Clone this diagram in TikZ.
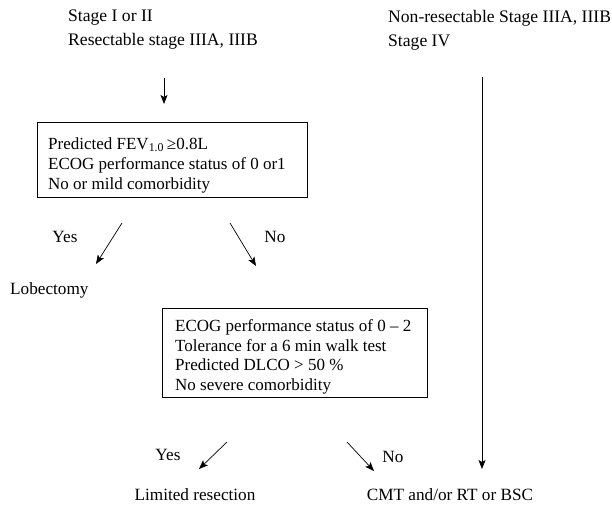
\documentclass[tikz,border=0pt]{standalone}
\usepackage{fontspec}
\setmainfont{Liberation Serif}
\usetikzlibrary{arrows.meta}
\begin{document}
\begin{tikzpicture}[x=1pt,y=-1pt,
  txt/.style={font=\fontsize{17.6}{24}\selectfont, inner sep=0pt, align=left},
  frame/.style={draw, line width=0.6pt, inner sep=0pt},
  boxtxt/.style={font=\fontsize{17}{20}\selectfont, align=left, inner sep=0pt},
  arr/.style={line width=0.7pt, -{Stealth[length=9pt,width=7pt,inset=2pt]}},
  lbl/.style={font=\fontsize{17.2}{21}\selectfont, inner sep=0pt}]
\useasboundingbox (0,0) rectangle (612,505);
% top texts
\node[txt, anchor=west] (stA) at (68,30) {Stage I or II\\Resectable stage IIIA, IIIB};
\node[txt, anchor=west] (stB) at (388,30) {Non-resectable Stage IIIA, IIIB\\Stage IV};
% box 1
\node[frame, minimum width=270pt, minimum height=75pt] (b1) at (172,159.5) {};
\node[boxtxt, anchor=west] (t1) at (48,165) {Predicted FEV\textsubscript{1.0}\,≥0.8L\\ECOG performance status of 0 or1\\No or mild comorbidity};
% box 2
\node[frame, minimum width=265pt, minimum height=89pt] (b2) at (294.5,352.5) {};
\node[boxtxt, anchor=west, font=\fontsize{17}{19.5}\selectfont] (t2) at (175,357) {ECOG performance status of 0 – 2\\Tolerance for a 6 min walk test\\Predicted DLCO > 50 \%\\No severe comorbidity};
% outcome texts
\node[lbl, anchor=west] (lob) at (10,290) {Lobectomy};
\node[lbl] (lim) at (195,495) {Limited resection};
\node[lbl] (cmt) at (450,495) {CMT and/or RT or BSC};
% labels
\node[lbl] (y1) at (65,237) {Yes};
\node[lbl] (n1) at (275,237) {No};
\node[lbl] (y2) at (168,455) {Yes};
\node[lbl] (n2) at (393,457) {No};
% arrow coordinates
\coordinate (a0) at (164,78);  \coordinate (a1) at (164,104);
\coordinate (y1s) at (122,223); \coordinate (y1e) at (96,264);
\coordinate (n1s) at (230,223); \coordinate (n1e) at (256,266);
\coordinate (y2s) at (227,442); \coordinate (y2e) at (199,469);
\coordinate (n2s) at (347,442); \coordinate (n2e) at (374,471);
\coordinate (vs) at (482,77);   \coordinate (ve) at (482,469);
\draw[arr] (a0) -- (a1);
\draw[arr] (y1s) -- (y1e);
\draw[arr] (n1s) -- (n1e);
\draw[arr] (y2s) -- (y2e);
\draw[arr] (n2s) -- (n2e);
\draw[arr] (vs) -- (ve);
\end{tikzpicture}
\end{document}
